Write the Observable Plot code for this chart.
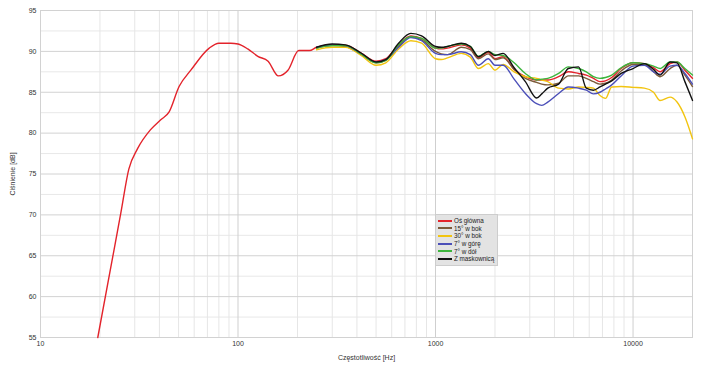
<!DOCTYPE html>
<html><head><meta charset="utf-8">
<script src="https://cdn.jsdelivr.net/npm/d3@7"></script>
<script src="https://cdn.jsdelivr.net/npm/@observablehq/plot@0.6"></script>
<style>
body{margin:0;background:#fff;}
#wrap{position:relative;width:705px;height:371px;}
#legend{position:absolute;left:435px;top:214px;background:#e3e3e3;border:1px solid #cdcdcd;padding:2px 3px 2px 2px;font:6.3px "Liberation Sans",Arial,sans-serif;color:#222;}
.row{display:flex;align-items:center;height:7.6px;white-space:nowrap;}
.sw{display:block;width:14px;height:2px;margin-right:2px;}
</style></head><body><div id="wrap"><div id="legend"></div></div>
<script>
// ---- data ----
const seriesNames = ["Oś główna", "15° w bok", "30° w bok", "7° w górę", "7° w dół", "Z maskownicą"];
const seriesColors = ["#e3232b", "#7c5b3a", "#f2c40f", "#4b4fb8", "#3cb53c", "#111111"];

// low-frequency part, main axis only
const freqLow = [19.5, 22.7, 25.5, 28, 31, 36, 40.5, 44.8, 50.3, 57.7, 71.5, 80, 92, 100, 112, 126, 142, 160, 179, 203, 230];
const mainLow = [55, 63.6, 70.2, 75.6, 78.1, 80.4, 81.6, 82.6, 85.7, 87.7, 90.4, 91.0, 91.0, 90.9, 90.3, 89.4, 88.8, 87.0, 87.7, 90.1, 90.1];

// common frequency points for all series
const freq = [250, 300, 350, 420, 500, 560, 650, 750, 850, 1000, 1070, 1150, 1350, 1500, 1650, 1850, 2000, 2200, 2500, 2850,
  3250, 3450, 3700, 4200, 4700, 5300, 5800, 6300, 6800, 7250, 7800, 8700, 10000, 11400, 12700, 13700, 15400, 16700, 18300, 20000];

const osGlowna = [90.5, 90.8, 90.75, 89.8, 88.8, 89.1, 90.8, 91.9, 91.6, 90.4, 90.3, 90.4, 90.8, 90.4, 89.2, 89.9, 89.1, 89.35, 87.8, 86.9,
  86.5, 86.5, 86.5, 86.9, 87.5, 87.3, 87.1, 86.7, 86.3, 86.4, 86.8, 87.9, 88.6, 88.5, 88.0, 87.5, 88.5, 88.7, 87.7, 86.7];
const bok15 = [90.4, 90.7, 90.6, 89.6, 88.6, 88.9, 90.6, 91.8, 91.4, 90.0, 89.7, 89.6, 90.5, 90.2, 89.1, 89.7, 89.0, 89.2, 87.8, 86.7,
  86.2, 86.0, 85.9, 86.1, 87.0, 87.0, 86.7, 86.3, 86.0, 86.1, 86.5, 87.6, 88.4, 88.4, 87.5, 86.9, 87.9, 88.3, 87.1, 85.7];
const bok30 = [90.2, 90.5, 90.5, 89.5, 88.3, 88.6, 90.3, 91.3, 91.0, 89.1, 89.0, 89.2, 89.75, 89.3, 87.9, 88.5, 87.7, 88.4, 87.5, 86.9,
  86.7, 86.5, 86.3, 85.5, 85.4, 85.65, 85.6, 85.5, 84.6, 84.25, 85.65, 85.7, 85.6, 85.5, 85.0, 84.0, 84.4, 83.8, 82.0, 79.3];
const gora7 = [90.5, 90.8, 90.7, 89.7, 88.7, 89.0, 90.5, 91.7, 91.3, 89.75, 89.6, 89.6, 89.95, 89.6, 88.3, 89.1, 88.3, 88.3, 86.6, 84.85,
  83.6, 83.4, 83.8, 84.85, 85.65, 85.5, 85.25, 84.8, 85.0, 85.4, 85.9, 87.0, 88.2, 88.3, 87.5, 87.2, 88.2, 88.3, 87.3, 86.0];
const dol7 = [90.4, 90.7, 90.7, 89.7, 88.6, 88.9, 90.8, 91.8, 91.6, 90.4, 90.4, 90.6, 90.9, 90.6, 89.4, 90.0, 89.6, 89.5, 88.6, 87.3,
  86.5, 86.6, 86.7, 87.3, 88.1, 87.9, 87.5, 86.9, 86.7, 86.8, 87.1, 88.0, 88.6, 88.5, 88.2, 87.9, 88.7, 88.7, 87.9, 87.1];
const maskownica = [90.5, 90.9, 90.8, 89.8, 88.7, 89.0, 91.0, 92.2, 91.9, 90.6, 90.5, 90.6, 91.0, 90.6, 89.35, 90.0, 89.5, 89.75, 88.0, 86.3,
  84.3, 84.8, 85.5, 86.0, 87.9, 88.1, 85.5, 85.25, 85.65, 86.0, 86.4, 87.3, 87.9, 88.5, 87.8, 87.1, 88.7, 88.6, 86.3, 84.0];

// axis ticks
const xMajorTicks = [10, 100, 1000, 10000];
const xMinorTicks = [20, 30, 40, 50, 60, 70, 80, 90, 200, 300, 400, 500, 600, 700, 800, 900,
  2000, 3000, 4000, 5000, 6000, 7000, 8000, 9000, 20000];
const yMajorTicks = [55, 60, 65, 70, 75, 80, 85, 90, 95];
const yMinorTicks = [57.5, 62.5, 67.5, 72.5, 77.5, 82.5, 87.5, 92.5];

// ---- build table ----
const seriesValues = [osGlowna, bok15, bok30, gora7, dol7, maskownica];
const rows = [];
seriesNames.forEach((name, i) => {
  if (i === 0) freqLow.forEach((f, j) => rows.push({series: name, f, db: mainLow[j]}));
  freq.forEach((f, j) => rows.push({series: name, f, db: seriesValues[i][j]}));
});

const chart = Plot.plot({
  width: 705,
  height: 371,
  marginLeft: 40,
  marginRight: 13,
  marginTop: 10,
  marginBottom: 34,
  style: {fontFamily: "'Liberation Sans', Arial, sans-serif", fontSize: "7px", color: "#333", background: "#fff"},
  x: {type: "log", domain: [10, 20000]},
  y: {domain: [55, 95]},
  color: {domain: seriesNames, range: seriesColors},
  marks: [
    Plot.ruleY(yMinorTicks, {stroke: "#e8e8e8", strokeWidth: 1}),
    Plot.ruleX(xMinorTicks, {stroke: "#e6e6e6", strokeWidth: 1}),
    Plot.ruleY(yMajorTicks, {stroke: "#d2d2d2", strokeWidth: 1}),
    Plot.ruleX(xMajorTicks, {stroke: "#cfcfcf", strokeWidth: 1}),
    Plot.frame({stroke: "#d2d2d2"}),
    Plot.axisY({ticks: yMajorTicks, tickSize: 0, tickPadding: 4, label: "Ciśnienie [dB]", labelAnchor: "center", labelOffset: 30, labelArrow: "none"}),
    Plot.axisX({ticks: xMajorTicks, tickSize: 0, tickPadding: 4, tickFormat: d => String(d), label: "Częstotliwość [Hz]", labelAnchor: "center", labelOffset: 22, labelArrow: "none"}),
    Plot.line(rows, {x: "f", y: "db", z: "series", stroke: "series", strokeWidth: 1.4, curve: "monotone-x"})
  ]
});
document.getElementById("wrap").prepend(chart);

const legend = document.getElementById("legend");
seriesNames.forEach((name, i) => {
  const r = document.createElement("div");
  r.className = "row";
  r.innerHTML = `<span class="sw" style="background:${seriesColors[i]}"></span><span>${name}</span>`;
  legend.appendChild(r);
});
</script>
</body></html>
